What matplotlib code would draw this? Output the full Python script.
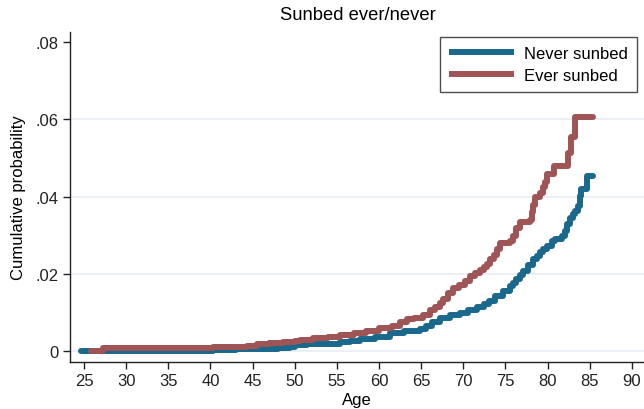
import matplotlib
matplotlib.use('Agg')
import matplotlib.pyplot as plt

plt.rcParams['font.family'] = ['Liberation Sans', 'DejaVu Sans']

# cumulative probability by age (value holds from that age on)
never_age = [24.6, 38.8, 40.3, 43.0, 45.9, 48.0, 49.4, 50.0, 51.5, 53.0, 55.4, 56.5,
             57.7, 59.5, 61.3, 63.0, 64.9, 65.6, 66.3, 67.2, 68.4, 69.6, 70.6, 71.6,
             72.5, 73.0, 73.8, 74.7, 75.5, 75.9, 76.3, 76.7, 77.1, 77.7, 78.3, 78.7,
             79.1, 79.5, 79.9, 80.5, 80.9, 81.7, 82.1, 82.3, 82.7, 83.0, 83.2, 83.6,
             83.8, 84.0, 84.7, 85.4]
never_cum = [0.0, 0.0001, 0.0003, 0.0004, 0.0006, 0.0008, 0.0011, 0.0015, 0.0017, 0.0019,
             0.0023, 0.0027, 0.0031, 0.0037, 0.0046, 0.0051, 0.0057, 0.0065, 0.0074, 0.0085,
             0.0092, 0.0099, 0.0107, 0.0115, 0.0123, 0.0130, 0.0142, 0.0155, 0.0168, 0.0176,
             0.0186, 0.0197, 0.0208, 0.0223, 0.0237, 0.0246, 0.0256, 0.0264, 0.0273, 0.0286,
             0.0290, 0.0297, 0.0310, 0.0329, 0.0345, 0.0356, 0.0362, 0.0376, 0.0402, 0.0419,
             0.0454, 0.0454]

ever_age = [25.8, 27.3, 33.0, 40.3, 42.0, 44.3, 45.5, 47.0, 48.6, 50.0, 50.6, 52.2,
            54.0, 55.4, 57.0, 58.5, 60.0, 61.5, 62.5, 63.3, 64.2, 65.2, 66.0, 66.6,
            67.2, 67.6, 68.2, 68.8, 69.5, 70.2, 70.8, 71.4, 72.0, 72.4, 72.8, 73.2,
            73.6, 74.0, 74.4, 75.5, 75.9, 76.3, 76.7, 77.9, 78.1, 78.3, 78.5, 79.1,
            79.5, 79.7, 79.9, 80.7, 82.45, 82.8, 83.3, 85.4]
ever_cum = [0.0, 0.0007, 0.0008, 0.0010, 0.0011, 0.0014, 0.0019, 0.0021, 0.0024, 0.0026,
            0.0029, 0.0033, 0.0036, 0.0042, 0.0047, 0.0053, 0.0059, 0.0066, 0.0075, 0.0083,
            0.0086, 0.0092, 0.0105, 0.0114, 0.0124, 0.0135, 0.0150, 0.0162, 0.0172, 0.0182,
            0.0193, 0.0201, 0.0210, 0.0218, 0.0226, 0.0238, 0.0248, 0.0264, 0.0280, 0.0284,
            0.0299, 0.0318, 0.0333, 0.0340, 0.0360, 0.0378, 0.0398, 0.0410, 0.0424, 0.0437,
            0.0458, 0.0480, 0.0512, 0.0553, 0.0605, 0.0605]

xticks = list(range(25, 95, 5))
yticks = [0, 0.02, 0.04, 0.06, 0.08]
ytick_labels = ['0', '.02', '.04', '.06', '.08']

blue = '#1a698c'
red = '#9f5456'

fig = plt.figure(figsize=(6.44, 4.10), dpi=100)
ax = fig.add_axes([0.1087, 0.1146, 0.8913, 0.8049])

for yv in yticks[:-1]:
    ax.axhline(yv, color='#e6edf3', lw=1.2, zorder=0)

ax.plot(never_age, never_cum, drawstyle='steps-post', color=blue, lw=4.3,
        solid_capstyle='round', solid_joinstyle='round', label='Never sunbed')
ax.plot(ever_age, ever_cum, drawstyle='steps-post', color=red, lw=4.3,
        solid_capstyle='round', solid_joinstyle='round', label='Ever sunbed')

ax.set_xlim(23.34, 91.43)
ax.set_ylim(-0.00285, 0.0826)
ax.set_xticks(xticks)
ax.set_yticks(yticks)
ax.set_yticklabels(ytick_labels)
ax.tick_params(direction='out', length=5, width=1, labelsize=12, colors='#222222', pad=3)
for s in ['top', 'right']:
    ax.spines[s].set_visible(False)
for s in ['left', 'bottom']:
    ax.spines[s].set_linewidth(1)
    ax.spines[s].set_color('#222222')

ax.set_xlabel('Age', fontsize=12, labelpad=2.5)
ax.set_ylabel('Cumulative probability', fontsize=12, labelpad=7)
fig.text(0.555, 0.961, 'Sunbed ever/never', ha='center', va='center', fontsize=13.2)

leg = ax.legend(loc='upper right', bbox_to_anchor=(0.988, 0.985), fontsize=12,
                frameon=True, fancybox=False, edgecolor='#222222', handlelength=3.9,
                borderpad=0.55, labelspacing=0.4, handletextpad=0.6, borderaxespad=0)
leg.get_frame().set_linewidth(1)
for h in leg.get_lines():
    h.set_solid_capstyle('butt')

fig.savefig('out.png', dpi=100)
